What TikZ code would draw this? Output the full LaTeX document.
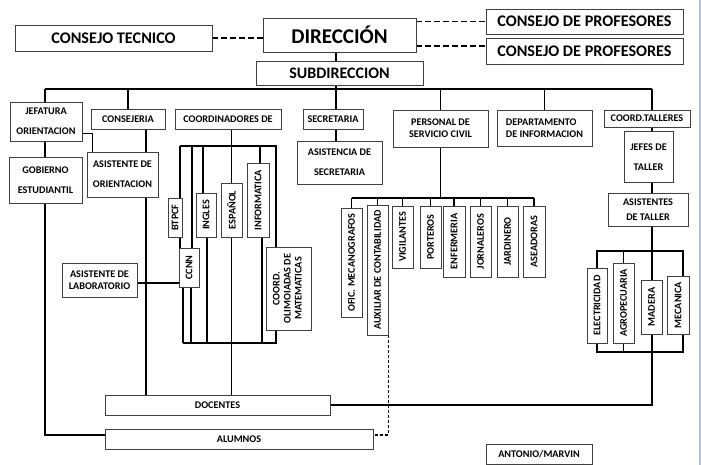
\documentclass[tikz,border=0pt]{standalone}
\usepackage{fontspec}
\setmainfont{Carlito}
\usepackage{tikz}
\usetikzlibrary{positioning}
\usetikzlibrary{arrows,shapes}
\usetikzlibrary{calc}
\pgfdeclarelayer{back}
\pgfsetlayers{back,main}
\definecolor{frameblue}{RGB}{175,198,226}
\tikzstyle{orgbox}=[draw=black!75,fill=white,line width=0.8pt,inner sep=0pt,align=center,font=\bfseries\fontsize{10.2}{20}\selectfont]
\tikzstyle{tightbox}=[orgbox,font=\bfseries\fontsize{10.2}{12}\selectfont]
\tikzstyle{bigbox}=[orgbox,font=\bfseries\fontsize{16.2}{18}\selectfont]
\tikzstyle{link} = [draw,line width=1.3pt]
\tikzstyle{dashlink} = [draw,line width=1.5pt,dash pattern=on 6pt off 3pt]
\tikzstyle{dotlink} = [draw,line width=1.2pt,dash pattern=on 3pt off 2pt]

\begin{document}
\begin{tikzpicture}[x=1pt,y=-1pt]
\useasboundingbox (0,0) rectangle (701,465);

  % top of the chart
  \node[bigbox,font=\bfseries\fontsize{21}{24}\selectfont,minimum width=153,minimum height=34] (direccion) at (339.5,35) {DIRECCIÓN};
  \node[bigbox,font=\bfseries\fontsize{16}{18}\selectfont,minimum width=167,minimum height=24] (subdir) at (339.5,73) {SUBDIRECCION};
  \foreach \pos/\w/\h/\name/\label in {{(113.5,38)/197/26/tecnico/CONSEJO TECNICO}, {(584.5,21.5)/197/25/profa/CONSEJO DE PROFESORES}, {(584.5,51)/197/26/profb/CONSEJO DE PROFESORES}}
    \node[bigbox,minimum width=\w,minimum height=\h] (\name) at \pos {\label};

  % boxes with one line
  \foreach \pos/\w/\h/\name/\label in {{(128,119)/74/20/consejeria/CONSEJERIA}, {(228,119)/106/20/coordinadores/COORDINADORES DE}, {(333,119)/60/20/secretaria/SECRETARIA}, {(647,118.5)/86/17/talleres/COORD.TALLERES}, {(217.5,405)/225/20/docentes/DOCENTES}, {(239,439)/268/20/alumnos/ALUMNOS}}
    \node[orgbox,minimum width=\w,minimum height=\h] (\name) at \pos {\label};
  \node[orgbox,minimum width=106,minimum height=20] (firma) at (539,454) {ANTONIO/MARVIN};

  % boxes with two lines
  \foreach \pos/\w/\h/\name/\label in {{(46,121.5)/72/39/jefatura/JEFATURA\\ORIENTACION}, {(45.5,180)/73/46/gobierno/GOBIERNO\\ESTUDIANTIL}, {(122.5,174.5)/71/45/asistori/ASISTENTE DE\\ORIENTACION}, {(339.5,162.5)/85/43/asistsec/ASISTENCIA DE\\SECRETARIA}, {(648.5,157)/49/51/jefes/JEFES DE\\TALLER}}
    \node[orgbox,minimum width=\w,minimum height=\h] (\name) at \pos {\label};
  \foreach \pos/\w/\h/\name/\label in {{(99.5,280)/75/34/lab/ASISTENTE DE\\LABORATORIO}, {(440.5,128.5)/95/37/personal/PERSONAL DE\\SERVICIO CIVIL}}
    \node[tightbox,minimum width=\w,minimum height=\h] (\name) at \pos {\label};
  \node[tightbox,align=left,minimum width=95,minimum height=36] (depto) at (544.5,128) {DEPARTAMENTO\\DE INFORMACION};
  \node[tightbox,font=\bfseries\fontsize{10.2}{15}\selectfont,minimum width=80,minimum height=33] (asistaller) at (648,210) {ASISTENTES\\DE TALLER};

  % upright boxes
  \foreach \pos/\w/\h/\name/\label in {{(175,217.5)/14/39/btpcf/BTPCF}, {(189,267.5)/20/39/ccnn/CCNN}, {(206,215)/20/44/ingles/INGLES}, {(231.5,210)/21/54/espanol/ESPAÑOL}, {(258,200)/22/74/informatica/INFORMATICA}, {(351.5,262.5)/21/109/mecano/OFIC. MECANOGRAFOS}, {(377.5,270)/21/130/auxiliar/AUXILIAR DE CONTABILIDAD}, {(402.5,237)/21/62/vigilantes/VIGILANTES}, {(430.5,237)/21/62/porteros/PORTEROS}, {(454,241.5)/22/71/enfermeria/ENFERMERIA}, {(480.5,241.5)/21/71/jornaleros/JORNALEROS}, {(507.5,241.5)/21/71/jardinero/JARDINERO}, {(534,241.5)/22/71/aseadoras/ASEADORAS}, {(597,305.5)/20/75/elec/ELECTRICIDAD}, {(623.5,303)/21/80/agro/AGROPECUARIA}, {(651.5,307)/21/54/madera/MADERA}, {(678,305)/22/58/mecanica/MECANICA}}
    \node[orgbox,minimum width=\w,minimum height=\h] (\name) at \pos {\rotatebox{90}{\label}};
  \node[orgbox,font=\bfseries\fontsize{10.2}{11}\selectfont,minimum width=45,minimum height=83] (olimp) at (288.5,288.5) {\rotatebox{90}{\begin{tabular}{@{}c@{}}COORD.\\OLIMOIADAS DE\\MATEMATICAS\end{tabular}}};

  \coordinate (busl) at (45,89);
  \coordinate (busr) at (652,89);
  \coordinate (spine) at (336,0);
  \coordinate (ctop) at (180,146);
  \coordinate (ctopr) at (276,146);
  \coordinate (cbot) at (183,343);
  \coordinate (pbus) at (350,198);
  \coordinate (wtop) at (597,251);
  \coordinate (wbotr) at (683,352);
  \coordinate (pbline) at ([yshift=5pt]profb.west);
  \coordinate (alin) at ([yshift=4pt]alumnos.west);
  \coordinate (alout) at ([yshift=4pt]alumnos.east);
  \coordinate (jout) at ([yshift=-12pt]jefatura.east);
  \coordinate (ccol) at ([xshift=18pt]consejeria.south);
  \coordinate (labout) at ([yshift=-3pt]lab.east);

  % Connect boxes
  \begin{pgfonlayer}{back}
  \path[dashlink] (tecnico.east) -- (tecnico.east -| direccion.west);
  \path[dashlink] (profa.west -| direccion.east) -- (profa.west);
  \path[dashlink] (pbline -| direccion.east) -- (pbline);
  \path[link] (spine |- direccion.south) -- (spine |- asistsec.north);
  \path[link] (busl) -- (busr);
  \foreach \n in {consejeria, personal, depto}
    \path[link] (busl -| \n) -- (\n);
  \path[link] (busl) |- (alin);
  \path[link] (jout) -| ([xshift=-30pt]asistori.north);
  \path[link] (ccol) -- (ccol |- docentes.north);
  \path[link] (labout) -- (labout -| ccnn.west);
  % coordinadores
  \path[link] (espanol |- coordinadores.south) -- (espanol |- docentes.north);
  \path[link] (ctop) -- (ctopr) -- (ctopr |- cbot) -- (cbot);
  \path[link] (ctop) -- ([xshift=-9pt]ccnn.north);
  \path[link] ([xshift=3pt]ccnn.north) |- (ctop);
  \path[link] ([xshift=-6pt]ccnn.south) |- (cbot);
  \path[link] ([xshift=2pt]ccnn.south) |- (cbot);
  \path[link] ([xshift=-3pt]ingles.north) |- (ctop);
  \path[link] ([xshift=1pt]ingles.south) |- (cbot);
  \path[link] ([xshift=2pt]informatica.north) |- (ctop);
  \path[link] ([xshift=4pt]informatica.south) |- (cbot);
  % personal de servicio
  \path[link] (personal) -- (personal |- pbus);
  \path[link] (pbus -| mecano) -- (pbus -| aseadoras);
  \foreach \n in {mecano, auxiliar, vigilantes, porteros, enfermeria, jornaleros, jardinero, aseadoras}
    \path[link] (pbus -| \n) -- (\n);
  \path[dotlink] (auxiliar.south east) |- (alout);
  % talleres
  \path[link] (busr) |- (docentes.east);
  \path[link] (wtop) rectangle (wbotr);
  \path[link] (wtop -| agro) -- (wbotr -| agro);
  \end{pgfonlayer}

  \draw[frameblue,line width=1.2pt] (700,0) -- (700,465);
\end{tikzpicture}
\end{document}
